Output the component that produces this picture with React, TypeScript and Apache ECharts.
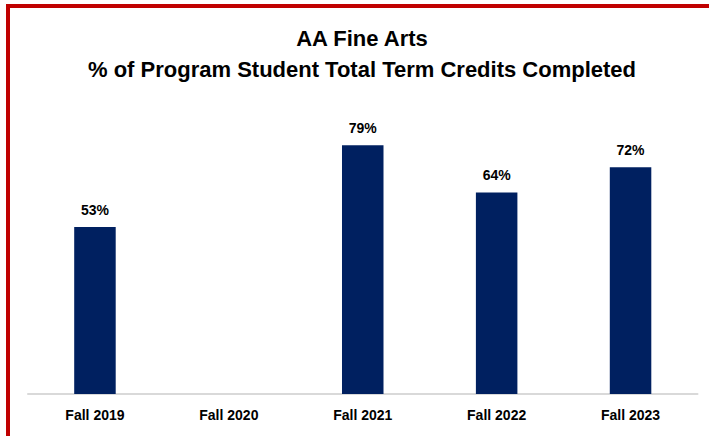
import React, { useEffect, useRef } from "react";
import * as echarts from "echarts";

const categories = ["Fall 2019", "Fall 2020", "Fall 2021", "Fall 2022", "Fall 2023"];
const values: (number | null)[] = [53, null, 79, 64, 72];
const titleLines = ["AA Fine Arts", "% of Program Student Total Term Credits Completed"];

export default function App() {
  const ref = useRef<HTMLDivElement>(null);
  useEffect(() => {
    document.body.style.margin = "0";
    if (!ref.current) return;
    const chart = echarts.init(ref.current, null, { renderer: "svg" });
    const font = "'Liberation Sans', Arial, sans-serif";
    chart.setOption({
      animation: false,
      backgroundColor: "#ffffff",
      title: {
        text: titleLines.join("\n"),
        left: 362,
        top: 23,
        textAlign: "center",
        padding: 0,
        textStyle: {
          fontFamily: font,
          fontWeight: "bold",
          fontSize: 22,
          lineHeight: 31,
          color: "#000000",
        },
      },
      grid: { left: 28, right: 11.5, top: 79, bottom: 42, containLabel: false },
      xAxis: {
        type: "category",
        data: categories,
        axisLine: { show: true, lineStyle: { color: "#d9d9d9", width: 2 } },
        axisTick: { show: false },
        axisLabel: {
          fontFamily: font,
          fontWeight: "bold",
          fontSize: 14,
          color: "#000000",
          margin: 14,
        },
      },
      yAxis: {
        type: "value",
        min: 0,
        max: 100,
        show: false,
        splitLine: { show: false },
      },
      series: [
        {
          type: "bar",
          data: values,
          barWidth: "31%",
          itemStyle: { color: "#002060" },
          label: {
            show: true,
            position: "top",
            distance: 10,
            formatter: (p: any) => (p.value == null ? "" : p.value + "%"),
            fontFamily: font,
            fontWeight: "bold",
            fontSize: 14,
            color: "#000000",
          },
        },
      ],
      graphic: [
        { type: "rect", shape: { x: 6, y: 4, width: 703, height: 4 }, style: { fill: "#c00000" }, z: 100 },
        { type: "rect", shape: { x: 6, y: 4, width: 4, height: 432 }, style: { fill: "#c00000" }, z: 100 },
      ],
    });
    return () => chart.dispose();
  }, []);
  return <div ref={ref} style={{ width: 709, height: 436 }} />;
}
